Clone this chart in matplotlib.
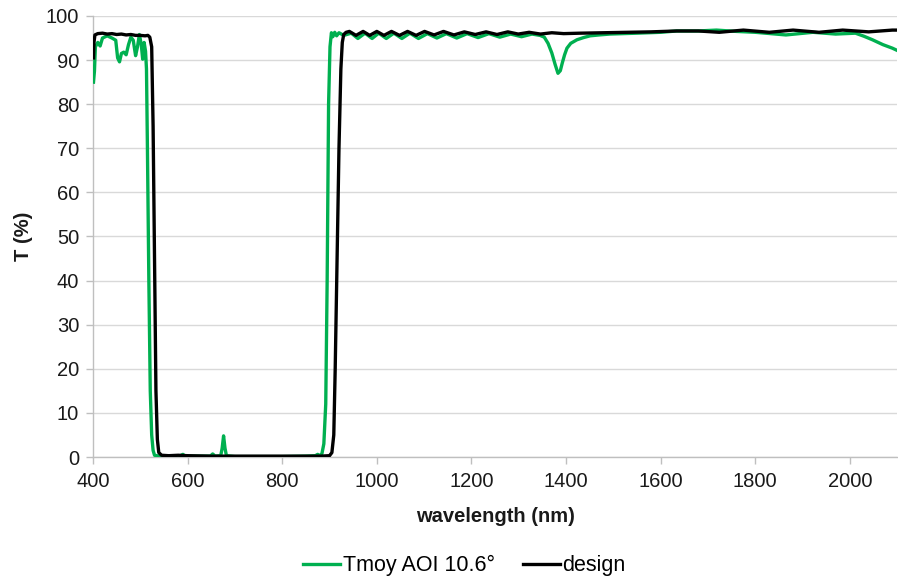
import matplotlib
matplotlib.use("Agg")
import matplotlib.pyplot as plt

plt.rcParams['font.family'] = ['Liberation Sans', 'DejaVu Sans']

# Measured transmission (Tmoy, AOI 10.6 deg)
wl_meas = [401, 403, 405, 410, 415, 420, 430, 440, 448, 452, 456, 460, 465, 470,
           475, 480, 485, 490, 494, 498, 502, 505, 508, 511, 513, 515, 518, 521,
           524, 527, 530, 540, 560, 585, 590, 595, 620, 648, 653, 658, 670, 673,
           676, 679, 682, 700, 750, 800, 850, 870, 875, 880, 884, 888, 892, 895,
           898, 901, 904, 907, 911, 915, 920, 930,
           946, 960, 975, 990, 1004, 1020, 1036, 1053, 1070, 1088, 1107, 1127,
           1147, 1169, 1191, 1214, 1237, 1260, 1283, 1306, 1328, 1345, 1354,
           1362, 1370, 1377, 1383, 1388, 1392, 1397, 1402, 1410, 1423, 1437,
           1451, 1470, 1493, 1550, 1600, 1634, 1680, 1718, 1760, 1800, 1865,
           1922, 1970, 2012, 2030, 2048, 2070, 2090, 2100]
t_meas = [85.0, 87.5, 93.0, 94.0, 93.2, 95.0, 95.5, 95.0, 94.5, 90.5, 89.6, 91.5,
          91.8, 91.2, 93.5, 95.2, 94.5, 91.0, 93.0, 95.8, 93.5, 90.2, 94.0, 92.0,
          88.0, 70.0, 40.0, 15.0, 5.0, 1.5, 0.4, 0.2, 0.2, 0.3, 0.6, 0.2, 0.2,
          0.2, 0.7, 0.2, 0.3, 2.0, 4.8, 2.0, 0.3, 0.1, 0.1, 0.1, 0.2, 0.3, 0.6,
          0.3, 0.8, 3.0, 12.0, 40.0, 80.0, 93.0, 96.2, 95.3, 96.3, 95.5, 96.2,
          95.6,
          96.1, 94.9, 96.1, 94.9, 96.1, 94.9, 96.1, 94.9, 96.1, 94.9, 96.0, 95.0,
          96.0, 95.0, 96.0, 95.1, 96.0, 95.2, 95.9, 95.3, 95.9, 95.6, 95.2,
          93.8, 91.6, 89.0, 87.0, 87.6, 89.3, 91.2, 92.7, 93.8, 94.6, 95.1,
          95.5, 95.7, 95.9, 96.1, 96.3, 96.6, 96.6, 96.8, 96.5, 96.3, 95.7,
          96.3, 95.9, 96.1, 95.4, 94.6, 93.5, 92.7, 92.2]

# Design transmission
wl_design = [401, 402, 404, 410, 420, 430, 440, 450, 460, 470, 480, 490, 500,
             510, 516, 520, 524, 527, 530, 533, 536, 539, 545, 560, 580, 600,
             650, 700, 750, 800, 850, 880, 900, 905, 909, 912, 916, 920, 924,
             927, 930, 935,
             942, 956, 971, 985, 1000, 1015, 1031, 1048, 1065, 1083, 1101, 1121,
             1141, 1163, 1185, 1208, 1231, 1254, 1277, 1299, 1322, 1346, 1370,
             1395, 1430, 1480, 1530, 1580, 1634, 1680, 1724, 1775, 1830, 1880,
             1935, 1985, 2040, 2090, 2100]
t_design = [90.5, 94.0, 95.7, 96.0, 96.1, 95.9, 96.0, 95.8, 95.9, 95.7, 95.8,
            95.6, 95.6, 95.5, 95.6, 95.2, 93.0, 75.0, 45.0, 15.0, 4.0, 1.0,
            0.4, 0.3, 0.4, 0.3, 0.2, 0.2, 0.2, 0.2, 0.2, 0.2, 0.3, 1.0, 5.0,
            20.0, 45.0, 70.0, 88.0, 94.0, 95.8, 96.3,
            96.5, 95.6, 96.5, 95.6, 96.5, 95.6, 96.5, 95.6, 96.5, 95.6, 96.5,
            95.7, 96.5, 95.7, 96.4, 95.8, 96.4, 95.8, 96.4, 95.9, 96.3, 95.9,
            96.2, 96.0, 96.1, 96.2, 96.3, 96.4, 96.6, 96.6, 96.3, 96.8, 96.3,
            96.8, 96.3, 96.8, 96.4, 96.8, 96.8]

xticks = [400, 600, 800, 1000, 1200, 1400, 1600, 1800, 2000]
yticks = [0, 10, 20, 30, 40, 50, 60, 70, 80, 90, 100]

green = '#00B050'
axis_grey = '#BFBFBF'
grid_grey = '#D9D9D9'

fig = plt.figure(figsize=(8.98, 5.81), dpi=100)
ax = fig.add_axes([0.1036, 0.2134, 0.8954, 0.7591])

ax.plot(wl_meas, t_meas, color=green, lw=2.4, label='Tmoy AOI 10.6°',
        solid_joinstyle='round', zorder=3)
ax.plot(wl_design, t_design, color='black', lw=2.4, label='design',
        solid_joinstyle='round', zorder=4)

ax.set_xlim(400, 2100)
ax.set_ylim(0, 100)
ax.set_xticks(xticks)
ax.set_yticks(yticks)
ax.grid(axis='y', color=grid_grey, lw=1.0, zorder=0)
ax.set_axisbelow(True)

for side in ('top', 'right'):
    ax.spines[side].set_visible(False)
for side in ('left', 'bottom'):
    ax.spines[side].set_color(axis_grey)
    ax.spines[side].set_linewidth(1.0)

ax.tick_params(axis='both', colors=axis_grey, labelcolor='#1a1a1a',
               labelsize=14.5, length=5, width=1.0, direction='out')
ax.tick_params(axis='x', pad=6)
ax.tick_params(axis='y', pad=5)

ax.set_xlabel('wavelength (nm)', fontsize=14.5, fontweight='bold',
              color='#1a1a1a', labelpad=11)
ax.set_ylabel('T (%)', fontsize=14.5, fontweight='bold', color='#1a1a1a',
              labelpad=9)

fig.legend(loc='center', bbox_to_anchor=(0.517, 0.026), ncol=2, frameon=False,
           fontsize=15.5, handlelength=1.75, handletextpad=0.1,
           columnspacing=1.3)

fig.savefig('out.png', dpi=100)
